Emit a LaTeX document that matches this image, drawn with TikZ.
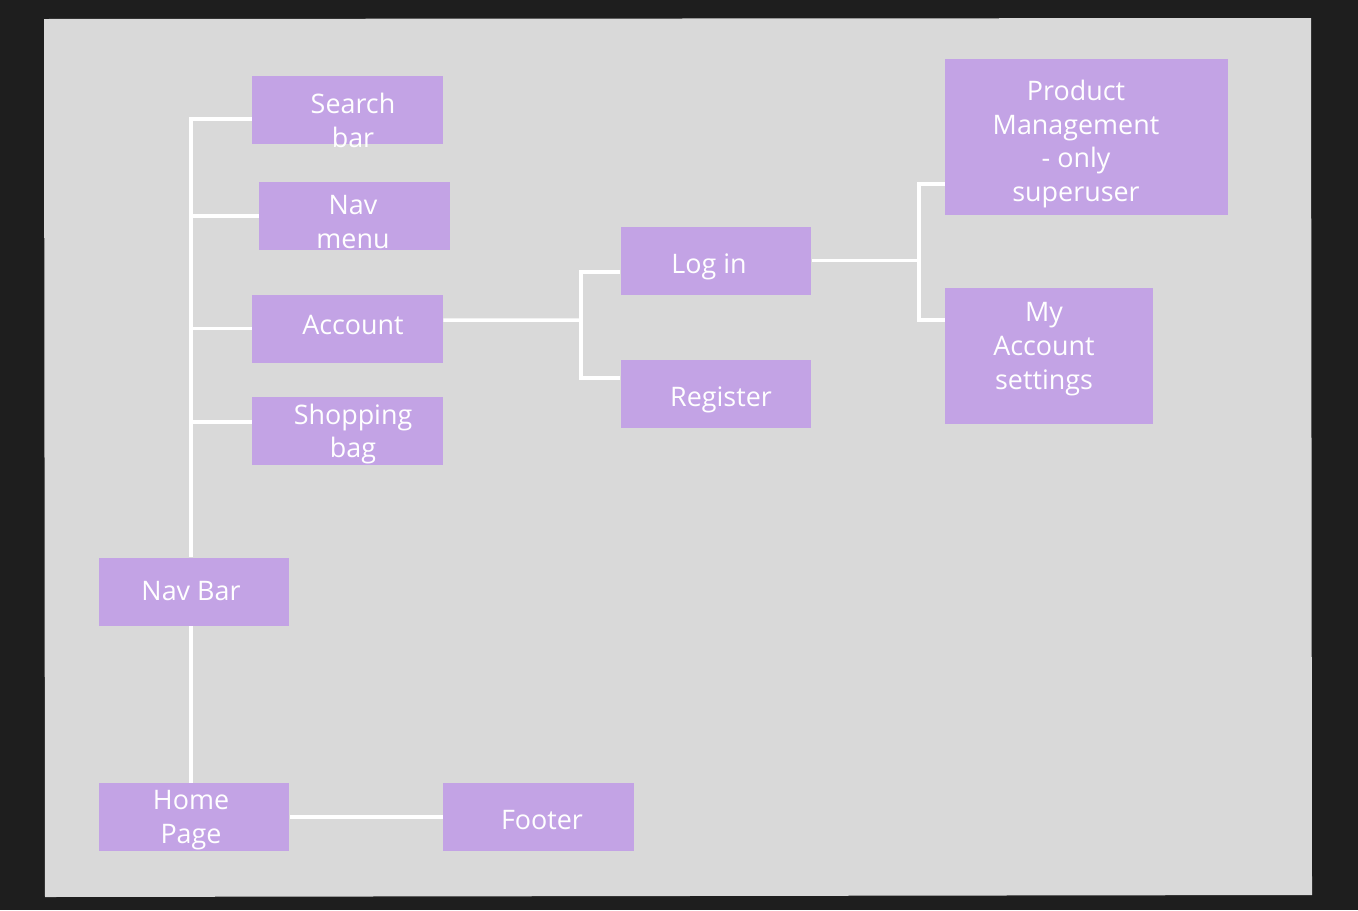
\documentclass[tikz,border=0pt]{standalone}
\usepackage{fontspec}
\setmainfont{Open Sans}

\definecolor{backdark}{HTML}{1E1E1E}
\definecolor{panelgray}{HTML}{D9D9D9}
\definecolor{boxlilac}{HTML}{C3A3E5}

\tikzset{
	box/.style = {fill=boxlilac, inner sep=0pt, minimum width=3.82cm, minimum height=1.36cm},
	boxtext/.style = {text=white, align=center, inner sep=0pt,
		font=\fontsize{15.3}{19.3}\selectfont},
	link/.style = {draw=white, line width=2pt}
}

\begin{document}
\begin{tikzpicture}[x=0.02cm, y=-0.02cm]
	\fill[backdark] (0,0) rectangle (1358,910);
	\fill[panelgray] (44,19) -- (1311,18) -- (1312,895) -- (45,897) -- cycle;

	% boxes
	\node[box] (search) at (347.5,110) {};
	\node[box] (navmenu) at (354.5,216) {};
	\node[box] (account) at (347.5,328.5) {};
	\node[box] (shopping) at (347.5,431) {};
	\node[box] (navbar) at (194,591.5) {};
	\node[box] (homepage) at (194,817) {};
	\node[box] (footer) at (538.5,817) {};
	\node[box] (login) at (716,260.5) {};
	\node[box] (register) at (716,393.5) {};
	\node[box, minimum width=5.66cm, minimum height=3.12cm] (product) at (1086.5,137) {};
	\node[box, minimum width=4.16cm, minimum height=2.72cm] (myaccount) at (1049,356) {};

	% labels
	\node[boxtext] (search-t) at (353,120) {Search\\bar};
	\node[boxtext] (navmenu-t) at (353,222) {Nav\\menu};
	\node[boxtext] (account-t) at (353,325) {Account};
	\node[boxtext] (shopping-t) at (353,434) {Shopping\\bag};
	\node[boxtext] (navbar-t) at (191,591) {Nav Bar};
	\node[boxtext] (homepage-t) at (191,820) {Home\\Page};
	\node[boxtext] (footer-t) at (542,820) {Footer};
	\node[boxtext] (login-t) at (709,267) {Log in};
	\node[boxtext] (register-t) at (721,400) {Register};
	\node[boxtext] (product-t) at (1076,144) {Product\\Management\\- only\\superuser};
	\node[boxtext] (myaccount-t) at (1044,349) {My\\Account\\settings};

	% connectors
	\coordinate (fork1) at (581,320);
	\coordinate (fork2) at (919,260.5);
	\draw[link] ([yshift=-.18cm]search.west) -| ([xshift=-.06cm]navbar.north);
	\draw[link] (navmenu.west) -| ([xshift=-.06cm]navbar.north);
	\draw[link] (account.west) -| ([xshift=-.06cm]navbar.north);
	\draw[link] ([yshift=.18cm]shopping.west) -| ([xshift=-.06cm]navbar.north);
	\draw[link] ([xshift=-.06cm]navbar.south) -- ([xshift=-.06cm]homepage.north);
	\draw[link] (homepage.east) -- (footer.west);
	\draw[link] ([yshift=.17cm]account.east) -- (fork1);
	\draw[link] ([yshift=-.23cm]login.west) -| (fork1);
	\draw[link] ([yshift=.31cm]register.west) -| (fork1);
	\draw[link] (login.east) -- (fork2);
	\draw[link] ([yshift=-.94cm]product.west) -| (fork2);
	\draw[link] ([yshift=.72cm]myaccount.west) -| (fork2);
\end{tikzpicture}
\end{document}
